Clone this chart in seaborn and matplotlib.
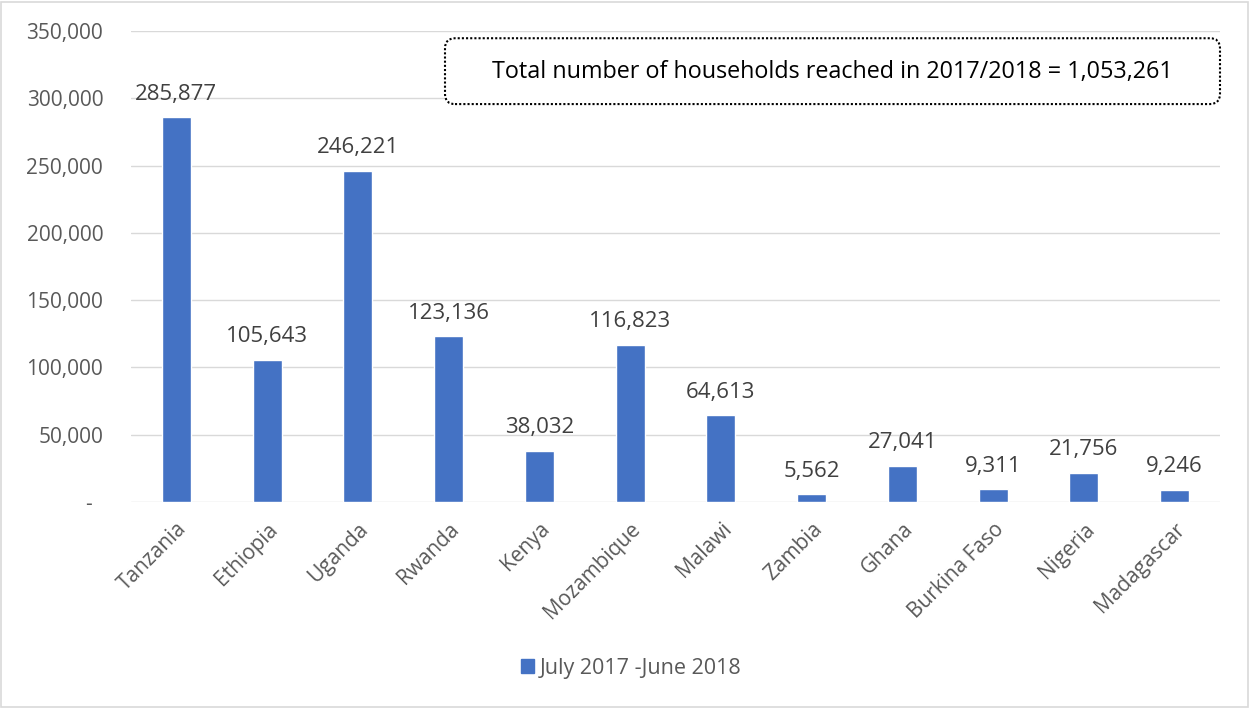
import matplotlib
matplotlib.use("Agg")
import matplotlib.pyplot as plt
from matplotlib.patches import FancyBboxPatch, Patch
from matplotlib.ticker import FuncFormatter
import seaborn as sns
import pandas as pd

countries = ["Tanzania", "Ethiopia", "Uganda", "Rwanda", "Kenya", "Mozambique",
             "Malawi", "Zambia", "Ghana", "Burkina Faso", "Nigeria", "Madagascar"]
households = [285877, 105643, 246221, 123136, 38032, 116823,
              64613, 5562, 27041, 9311, 21756, 9246]
series_name = "July 2017 -June 2018"
total_text = "Total number of households reached in 2017/2018 = 1,053,261"
y_ticks = [0, 50000, 100000, 150000, 200000, 250000, 300000, 350000]

df = pd.DataFrame({"country": countries, "households": households,
                   "period": series_name})

sns.set_theme(style="white")
plt.rcParams["font.family"] = ["Open Sans", "DejaVu Sans"]

BLUE = "#4472C4"
GREY_TXT = "#595959"

fig = plt.figure(figsize=(12.5, 7.08), dpi=100)
ax = fig.add_axes([0.1048, 0.291, 0.8712, 0.665])

sns.barplot(data=df, x="country", y="households", color=BLUE, width=0.32,
            ax=ax, saturation=1, legend=False)

ax.set_ylim(0, 350000)
ax.set_xlim(-0.5, len(countries) - 0.5)
ax.set_yticks(y_ticks)
ax.yaxis.set_major_formatter(FuncFormatter(
    lambda v, p: "-  " if v == 0 else f"{v:,.0f}"))
ax.grid(axis="y", color="#D9D9D9", linewidth=1)
ax.set_axisbelow(True)
for s in ax.spines.values():
    s.set_visible(False)
ax.set_xlabel("")
ax.set_ylabel("")
ax.tick_params(axis="y", labelsize=15, labelcolor=GREY_TXT, length=0, pad=20)
ax.tick_params(axis="x", labelsize=15, labelcolor=GREY_TXT, length=0, pad=12)
plt.setp(ax.get_xticklabels(), rotation=45, ha="right", rotation_mode="anchor")

for container in ax.containers:
    ax.bar_label(container, labels=[f"{v:,.0f}" for v in households],
                 padding=9, fontsize=16, color="#404040")

# summary box
box = FancyBboxPatch((0.356, 0.853), 0.62, 0.093, transform=fig.transFigure,
                     boxstyle="round,pad=0,rounding_size=0.008",
                     facecolor="white", edgecolor="black", linewidth=1.5,
                     linestyle=(0, (1, 1)), mutation_aspect=1.77)
fig.add_artist(box)
fig.text(0.666, 0.899, total_text, ha="center", va="center",
         fontsize=16.8, color="black")

handles = [Patch(facecolor=BLUE, edgecolor=BLUE)]
fig.legend(handles, [series_name], loc="center", bbox_to_anchor=(0.505, 0.056),
           frameon=False, fontsize=15.5, handlelength=0.6, handleheight=0.6,
           handletextpad=0.3, labelcolor=GREY_TXT)

# outer chart border
fig.add_artist(plt.Rectangle((0.001, 0.002), 0.997, 0.995,
                             transform=fig.transFigure, fill=False,
                             edgecolor="#D9D9D9", linewidth=1.2))

fig.savefig("out.png", dpi=100)
